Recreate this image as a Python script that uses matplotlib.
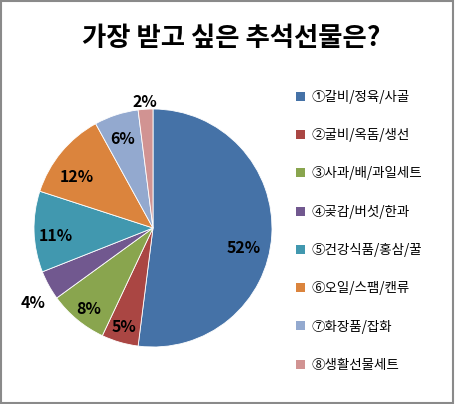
import matplotlib
matplotlib.use("Agg")
import matplotlib.pyplot as plt
from matplotlib.patches import Rectangle
import numpy as np

plt.rcParams['font.family'] = ['Noto Sans CJK KR', 'DejaVu Sans']

title = "가장 받고 싶은 추석선물은?"
categories = ["①갈비/정육/사골", "②굴비/옥돔/생선", "③사과/배/과일세트", "④곶감/버섯/한과",
              "⑤건강식품/홍삼/꿀", "⑥오일/스팸/캔류", "⑦화장품/잡화", "⑧생활선물세트"]
values = [52, 5, 8, 4, 11, 12, 6, 2]
colors = ["#4572A7", "#AA4643", "#89A54E", "#71588F", "#4198AF", "#DB843D", "#93A9CF", "#D19392"]
label_radius = [0.78, 0.87, 0.87, 1.19, 0.82, 0.77, 0.79, 1.06]
label_dangle = [-9, 0, 1, 3, 3, 5.5, 1, 0]

W, H = 455, 404
fig = plt.figure(figsize=(W / 100, H / 100), dpi=100)

cx, cy, r = 153, 228, 119
ax = fig.add_axes([(cx - r) / W, (H - cy - r) / H, 2 * r / W, 2 * r / H])
wedges, _ = ax.pie(values, colors=colors, startangle=90, counterclock=False, radius=1,
                   wedgeprops=dict(edgecolor="white", linewidth=0.6))
ax.set_xlim(-1, 1)
ax.set_ylim(-1, 1)
ax.set_aspect('equal')
ax.axis('off')

for w, v, rr, da in zip(wedges, values, label_radius, label_dangle):
    ang = np.deg2rad((w.theta1 + w.theta2) / 2 + da)
    ax.text(rr * np.cos(ang), rr * np.sin(ang), f"{v}%", ha='center', va='center',
            fontsize=11.5, fontweight='bold', color='black', clip_on=False)

fig.text(231 / W, 1 - 38 / H, title, ha='center', va='center', fontsize=19, fontweight='bold')

handles = [Rectangle((0, 0), 1, 1, facecolor=c, edgecolor='none') for c in colors]
leg = fig.legend(handles, categories, loc='upper left', bbox_to_anchor=(296 / W, 1 - 90 / H),
                 frameon=False, fontsize=9.7, handlelength=0.65, handleheight=0.65,
                 handletextpad=0.5, labelspacing=1.8, borderpad=0, borderaxespad=0)

border = Rectangle((0.5 / W, 1.5 / H), 452.5 / W, 402 / H, transform=fig.transFigure,
                   fill=False, edgecolor="#8a8a8a", linewidth=1.5)
fig.patches.append(border)

fig.savefig("out.png", dpi=100)
